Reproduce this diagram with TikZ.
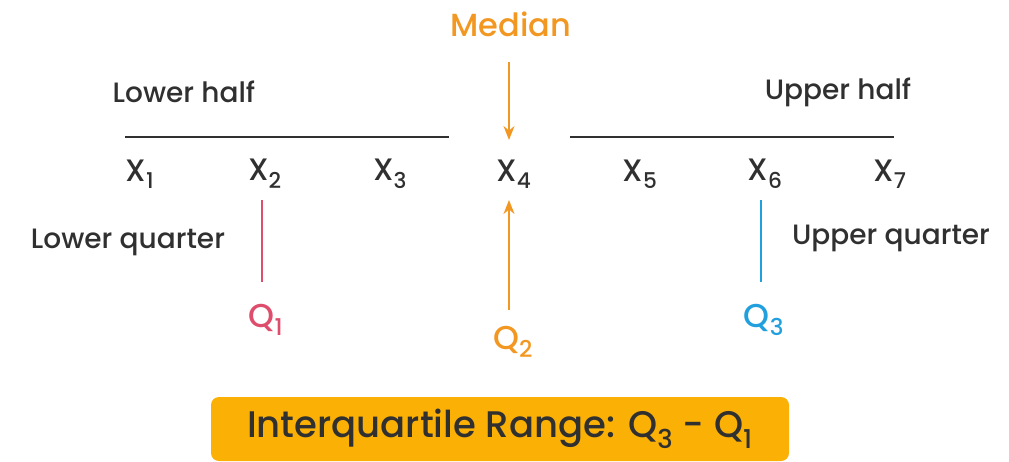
\documentclass[tikz,border=0pt]{standalone}
\usepackage{fontspec}
\setmainfont{Poppins}
\newfontfamily\pmed{Poppins Medium}
\usetikzlibrary{arrows.meta}
\definecolor{med-orange}{RGB}{242,152,34}
\definecolor{q-pink}{RGB}{222,78,108}
\definecolor{q-blue}{RGB}{34,160,222}
\definecolor{box-amber}{RGB}{250,176,5}
\definecolor{txt-dark}{RGB}{48,48,48}

\begin{document}
\begin{tikzpicture}[x=1pt,y=-1pt,
  lbl/.style={font=\pmed\fontsize{28}{32}\selectfont, text=txt-dark, inner sep=0pt},
  xval/.style={font=\pmed\fontsize{31}{35}\selectfont, text=txt-dark, inner sep=0pt},
  qval/.style={font=\pmed\fontsize{33}{37}\selectfont, inner sep=0pt},
  half/.style={line width=1.5pt, txt-dark},
  medarrow/.style={line width=1.5pt, med-orange, -{Stealth[length=14pt,width=11pt]}}]
  \useasboundingbox (0,0) rectangle (1009,461);

  % Median and halves
  \node[font=\pmed\fontsize{32}{36}\selectfont, text=med-orange, inner sep=0pt] (median) at (511,24) {Median};
  \node[lbl] (lowhalf) at (184,92) {Lower half};
  \node[lbl] (uphalf) at (838,92) {Upper half};
  \coordinate (lhA) at (125,137);
  \coordinate (lhB) at (449,137);
  \coordinate (uhA) at (570,137);
  \coordinate (uhB) at (894,137);
  \draw[half] (lhA) -- (lhB);
  \draw[half] (uhA) -- (uhB);

  % Data values
  \node[xval] (x1) at (140,174) {X\textsubscript{1}};
  \node[xval] (x2) at (265,174) {X\textsubscript{2}};
  \node[xval] (x3) at (390,174) {X\textsubscript{3}};
  \node[xval] (x4) at (514,174) {X\textsubscript{4}};
  \node[xval] (x5) at (640,174) {X\textsubscript{5}};
  \node[xval] (x6) at (765,174) {X\textsubscript{6}};
  \node[xval] (x7) at (890,174) {X\textsubscript{7}};

  % Quartiles
  \node[lbl] (lowq) at (128,242) {Lower quarter};
  \node[lbl] (upq) at (891,238) {Upper quarter};
  \node[qval, text=q-pink] (q1) at (266,320) {Q\textsubscript{1}};
  \node[qval, text=med-orange] (q2) at (513,342) {Q\textsubscript{2}};
  \node[qval, text=q-blue] (q3) at (764,320) {Q\textsubscript{3}};

  \coordinate (mtop) at (509,62);
  \coordinate (mtip) at (509,140);
  \coordinate (q2bot) at (509,310);
  \coordinate (q2tip) at (509,200);
  \draw[medarrow] (mtop) -- (mtip);
  \draw[medarrow] (q2bot) -- (q2tip);

  \coordinate (q1top) at (262,200);
  \coordinate (q1bot) at (262,282);
  \coordinate (q3top) at (761,200);
  \coordinate (q3bot) at (761,282);
  \draw[line width=1.5pt, q-pink] (q1top) -- (q1bot);
  \draw[line width=1.5pt, q-blue] (q3top) -- (q3bot);

  % Range box
  \node[fill=box-amber, rounded corners=8pt, minimum width=578pt, minimum height=64pt,
        font=\pmed\fontsize{37}{41}\selectfont, text=txt-dark] (iqr) at (500,429)
        {Interquartile Range: Q\textsubscript{3} - Q\textsubscript{1}};
\end{tikzpicture}
\end{document}
